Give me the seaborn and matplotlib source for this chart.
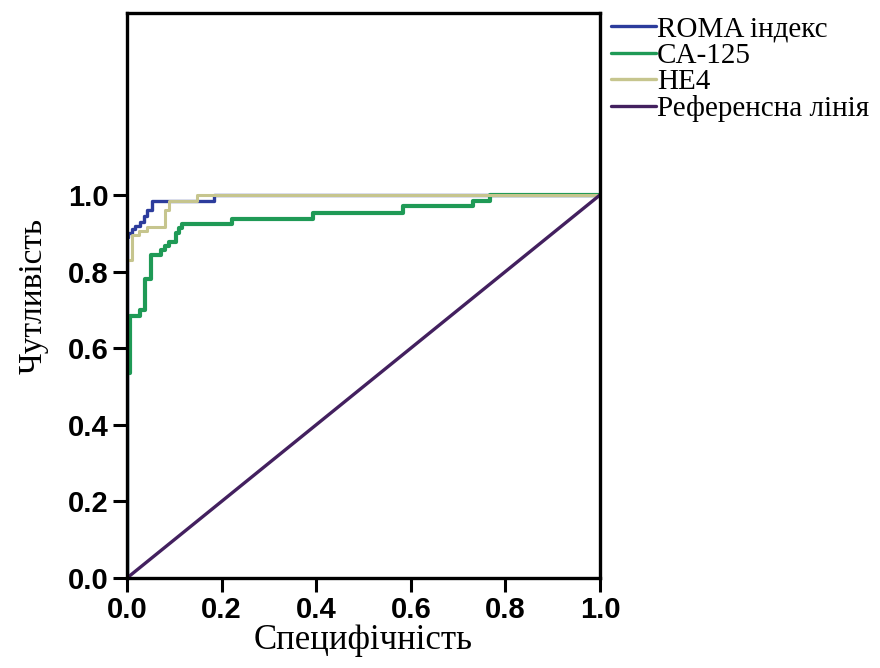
import matplotlib
matplotlib.use("Agg")
import matplotlib.pyplot as plt
import seaborn as sns
import pandas as pd

# ---- data (vertices of ROC step curves) ----
series_names = ["ROMA індекс", "CA-125", "HE4", "Референсна лінія"]

roma_x = [0, 0, 0.003, 0.003, 0.011, 0.011, 0.018, 0.018, 0.028, 0.028, 0.035, 0.035,
          0.042, 0.042, 0.053, 0.053, 0.184, 0.184, 1.0]
roma_y = [0, 0.89, 0.89, 0.90, 0.90, 0.91, 0.91, 0.92, 0.92, 0.93, 0.93, 0.945,
          0.945, 0.96, 0.96, 0.985, 0.985, 1.0, 1.0]

ca125_x = [0, 0, 0.007, 0.007, 0.028, 0.028, 0.038, 0.038, 0.05, 0.05, 0.071, 0.071,
           0.08, 0.08, 0.088, 0.088, 0.103, 0.103, 0.11, 0.11, 0.117, 0.117, 0.223, 0.223,
           0.394, 0.394, 0.583, 0.583, 0.731, 0.731, 0.767, 0.767, 1.0]
ca125_y = [0, 0.535, 0.535, 0.685, 0.685, 0.70, 0.70, 0.78, 0.78, 0.843, 0.843, 0.856,
           0.856, 0.868, 0.868, 0.878, 0.878, 0.90, 0.90, 0.913, 0.913, 0.924, 0.924, 0.937,
           0.937, 0.954, 0.954, 0.97, 0.97, 0.983, 0.983, 1.0, 1.0]

he4_x = [0, 0, 0.011, 0.011, 0.025, 0.025, 0.042, 0.042, 0.081, 0.081, 0.088, 0.088,
         0.148, 0.148, 1.0]
he4_y = [0, 0.83, 0.83, 0.895, 0.895, 0.905, 0.905, 0.917, 0.917, 0.96, 0.96, 0.983,
         0.983, 1.0, 1.0]

ref_x = [0.0, 1.0]
ref_y = [0.0, 1.0]

tick_vals = [0.0, 0.2, 0.4, 0.6, 0.8, 1.0]
tick_labels = ["0.0", "0.2", "0.4", "0.6", "0.8", "1.0"]

colors = ["#2c3c9c", "#1f9a56", "#c6c58e", "#43205f"]
widths = [2.4, 3.0, 2.2, 2.4]

# ---- build long table ----
frames = []
for name, xs, ys in zip(series_names,
                        [roma_x, ca125_x, he4_x, ref_x],
                        [roma_y, ca125_y, he4_y, ref_y]):
    frames.append(pd.DataFrame({"x": xs, "y": ys, "series": name,
                                "order": range(len(xs))}))
df = pd.concat(frames, ignore_index=True)

sns.set_style("ticks")
plt.rcParams["font.family"] = ["Liberation Serif", "DejaVu Serif"]
plt.rcParams["text.color"] = "black"
plt.rcParams["axes.labelcolor"] = "black"
plt.rcParams["xtick.color"] = "black"
plt.rcParams["ytick.color"] = "black"

fig = plt.figure(figsize=(8.8, 6.68), dpi=100)
ax = fig.add_axes([0.1443, 0.1347, 0.6818 - 0.1443, 0.9805 - 0.1347])

for name, c, lw in zip(series_names, colors, widths):
    sub = df[df["series"] == name]
    sns.lineplot(data=sub, x="x", y="y", sort=False, estimator=None,
                 color=c, linewidth=lw, ax=ax, label=name)

ax.set_xlim(0, 1.0)
ax.set_ylim(0, 1.475)
ax.set_xticks(tick_vals)
ax.set_yticks(tick_vals)
ax.set_xticklabels(tick_labels, family="Liberation Sans", fontweight="bold", fontsize=21,
                   color="black")
ax.set_yticklabels(tick_labels, family="Liberation Sans", fontweight="bold", fontsize=21,
                   color="black")
ax.tick_params(axis="both", direction="out", length=10, width=2.2, color="black", pad=3)

for sp in ax.spines.values():
    sp.set_visible(True)
    sp.set_linewidth(2.4)
    sp.set_color("black")

ax.set_xlabel("Специфічність", fontsize=25, labelpad=0, color="black")
ax.set_ylabel("Чутливість", fontsize=24, labelpad=14, color="black")

leg = ax.legend(loc="upper left", bbox_to_anchor=(1.01, 1.005), frameon=False,
                fontsize=21, handlelength=1.55, handletextpad=0.05,
                labelspacing=0.0, borderaxespad=0.0, borderpad=0.2)
for line in leg.get_lines():
    line.set_linewidth(2.4)
for t in leg.get_texts():
    t.set_color("black")

fig.savefig("out.png", dpi=100)
